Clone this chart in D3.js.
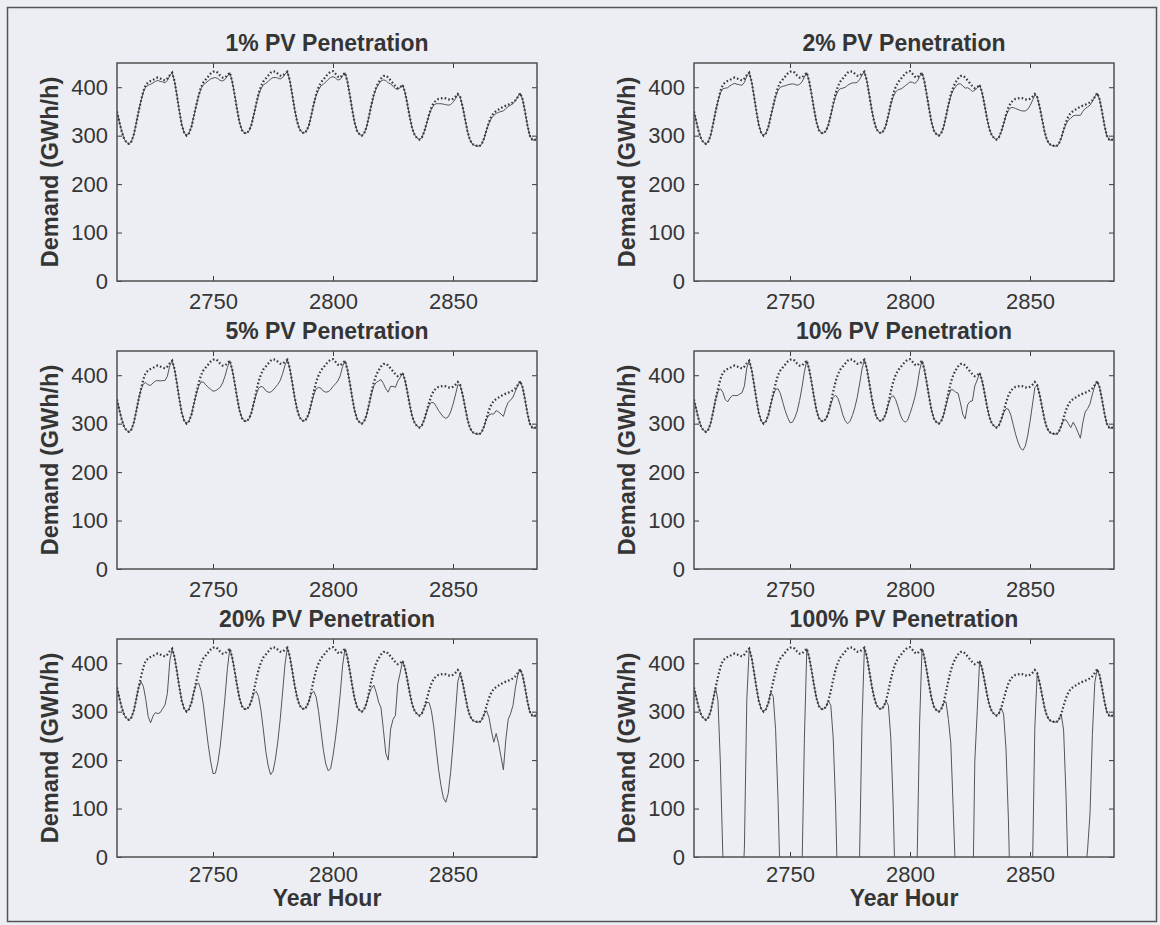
<!doctype html>
<html>
  <head>
    <meta charset="utf-8">
    <title>PV Penetration - Demand</title>
    <script src="https://cdnjs.cloudflare.com/ajax/libs/d3/7.8.5/d3.min.js"></script>
    <style>
      body { margin: 0; background: #eceef3; }
      svg text { font-family: "Liberation Sans", Arial, sans-serif; fill: #353535; }
    </style>
  </head>
  <body>
    <div id="my-svg-chart"></div>

    <script>
    // == data ==
    // hourly values, first value is year hour 2710, last is 2885
    const firstHour = 2710;

    // demand without PV (dotted line), GWh/h
    const baseDemand = [
      350, 328, 308, 293, 286,
      283, 288, 302, 325, 350, 372, 392, 405, 410, 413, 415, 418, 420, 418, 416, 414, 418, 425, 430, 412, 382, 350, 322, 306,
      300, 305, 318, 340, 362, 383, 400, 410, 416, 422, 428, 432, 433, 430, 424, 420, 420, 425, 430, 412, 385, 355, 328, 312, 306,
      305, 310, 322, 343, 366, 387, 402, 412, 418, 424, 430, 433, 432, 428, 424, 424, 428, 432, 414, 385, 355, 330, 314, 307,
      305, 310, 322, 343, 366, 386, 400, 410, 416, 422, 428, 432, 433, 428, 422, 420, 425, 430, 412, 384, 354, 327, 310, 303,
      300, 305, 318, 340, 364, 385, 400, 410, 418, 423, 424, 420, 414, 408, 402, 398, 400, 405, 390, 365, 338, 315, 302, 295,
      292, 296, 308, 325, 343, 358, 368, 373, 376, 377, 378, 377, 375, 374, 376, 380, 386, 380, 360, 335, 310, 292, 283, 280, 279,
      278, 283, 295, 312, 328, 340, 347, 351, 354, 357, 360, 362, 364, 366, 369, 373, 380, 388, 375, 350, 322, 300, 292, 290, 297
    ];

    // demand net of PV (solid line), one array per panel
    const net1 = [
      350, 328, 308, 293, 286,
      283, 288, 302, 325, 350, 372, 390, 401, 404, 406, 409, 412, 414, 412, 411, 409, 414, 424, 430, 412, 382, 350, 322, 306,
      300, 305, 318, 340, 362, 382, 397, 405, 409, 413, 417, 419, 420, 418, 414, 413, 416, 423, 430, 412, 385, 355, 328, 312, 306,
      305, 310, 322, 343, 365, 384, 397, 405, 408, 412, 417, 420, 420, 419, 417, 420, 427, 432, 414, 385, 355, 330, 314, 307,
      305, 310, 322, 343, 365, 383, 395, 403, 406, 411, 416, 420, 422, 419, 415, 416, 424, 430, 412, 384, 354, 327, 310, 303,
      300, 305, 318, 340, 363, 384, 397, 406, 413, 415, 414, 409, 407, 402, 397, 396, 399, 405, 390, 365, 338, 315, 302, 295,
      292, 296, 308, 325, 342, 355, 363, 366, 366, 366, 365, 364, 363, 364, 369, 376, 385, 380, 360, 335, 310, 292, 283, 280, 279,
      278, 283, 295, 312, 326, 336, 342, 346, 348, 350, 351, 356, 360, 363, 366, 372, 380, 388, 375, 350, 322, 300, 292, 290, 297
    ];
    const net2 = [
      350, 328, 308, 293, 286,
      283, 288, 302, 325, 350, 371, 388, 397, 398, 399, 403, 406, 408, 406, 405, 404, 410, 423, 430, 412, 382, 350, 322, 306,
      300, 305, 318, 340, 361, 381, 394, 400, 402, 403, 405, 406, 407, 406, 404, 406, 411, 421, 430, 412, 385, 355, 328, 312, 306,
      305, 310, 322, 342, 364, 381, 392, 397, 398, 400, 404, 407, 409, 409, 410, 416, 425, 432, 414, 385, 355, 330, 314, 307,
      305, 310, 322, 342, 364, 380, 390, 395, 396, 399, 403, 407, 411, 410, 408, 412, 422, 430, 412, 384, 354, 327, 310, 303,
      300, 305, 318, 340, 362, 382, 394, 401, 407, 407, 403, 398, 399, 396, 391, 394, 398, 405, 390, 365, 338, 315, 302, 295,
      292, 296, 308, 324, 341, 352, 358, 358, 356, 354, 352, 351, 351, 354, 362, 372, 384, 380, 360, 335, 310, 292, 283, 280, 279,
      278, 283, 295, 311, 324, 332, 336, 341, 342, 342, 342, 350, 356, 359, 363, 371, 380, 388, 375, 350, 322, 300, 292, 290, 297
    ];
    const net5 = [
      350, 328, 308, 293, 286,
      283, 288, 302, 325, 350, 370, 382, 385, 380, 379, 384, 388, 389, 388, 389, 389, 398, 420, 430, 412, 382, 350, 322, 306,
      300, 305, 318, 340, 361, 377, 386, 386, 380, 375, 371, 367, 368, 371, 375, 384, 398, 416, 430, 412, 385, 355, 328, 312, 306,
      305, 310, 322, 342, 360, 373, 377, 375, 368, 365, 365, 369, 375, 381, 389, 403, 421, 432, 414, 385, 355, 330, 314, 307,
      305, 310, 322, 342, 360, 372, 375, 373, 367, 365, 366, 370, 377, 382, 388, 399, 418, 430, 412, 384, 354, 327, 310, 303,
      300, 305, 318, 339, 360, 378, 385, 388, 391, 383, 372, 365, 377, 377, 375, 388, 395, 405, 390, 365, 338, 315, 302, 295,
      292, 296, 308, 324, 337, 344, 343, 336, 327, 320, 314, 311, 314, 324, 340, 359, 380, 380, 360, 335, 310, 292, 283, 280, 279,
      278, 283, 295, 310, 318, 320, 320, 327, 324, 320, 315, 332, 344, 349, 355, 367, 379, 388, 375, 350, 322, 300, 292, 290, 297
    ];
    const net10 = [
      350, 328, 308, 293, 286,
      283, 288, 302, 325, 350, 367, 372, 365, 350, 345, 353, 358, 358, 358, 361, 364, 378, 415, 430, 412, 382, 350, 322, 306,
      300, 305, 318, 340, 359, 371, 372, 362, 344, 327, 313, 302, 303, 312, 326, 348, 375, 407, 430, 412, 385, 355, 328, 312, 306,
      305, 310, 322, 340, 354, 359, 352, 337, 318, 306, 300, 305, 317, 333, 354, 382, 413, 432, 414, 385, 355, 330, 314, 307,
      305, 310, 322, 340, 354, 358, 350, 335, 318, 307, 303, 307, 321, 336, 354, 378, 410, 430, 412, 384, 354, 327, 310, 303,
      300, 305, 318, 338, 356, 370, 370, 365, 363, 343, 319, 310, 339, 346, 347, 378, 390, 405, 390, 365, 338, 315, 302, 295,
      292, 296, 308, 322, 331, 330, 318, 298, 278, 262, 250, 245, 253, 274, 304, 338, 374, 380, 360, 335, 310, 292, 283, 280, 279,
      278, 283, 295, 307, 308, 300, 292, 303, 294, 282, 270, 302, 324, 331, 341, 361, 378, 388, 375, 350, 322, 300, 292, 290, 297
    ];
    const net20 = [
      350, 328, 308, 293, 286,
      283, 288, 302, 325, 350, 362, 352, 325, 290, 277, 291, 298, 296, 298, 306, 314, 338, 405, 430, 412, 382, 350, 322, 306,
      300, 305, 318, 340, 356, 359, 344, 314, 272, 232, 198, 172, 173, 194, 228, 276, 330, 389, 430, 412, 385, 355, 328, 312, 306,
      305, 310, 322, 337, 342, 331, 302, 262, 218, 188, 170, 177, 202, 238, 284, 340, 398, 432, 414, 385, 355, 330, 314, 307,
      305, 310, 322, 337, 342, 330, 300, 260, 220, 192, 178, 182, 209, 244, 286, 336, 395, 430, 412, 384, 354, 327, 310, 303,
      300, 305, 318, 336, 348, 355, 340, 320, 308, 263, 214, 200, 264, 284, 292, 358, 380, 405, 390, 365, 338, 315, 302, 295,
      292, 296, 308, 319, 319, 302, 268, 223, 180, 147, 122, 113, 131, 174, 232, 296, 362, 380, 360, 335, 310, 292, 283, 280, 279,
      278, 283, 295, 302, 288, 260, 237, 255, 234, 207, 180, 242, 284, 296, 313, 349, 376, 388, 375, 350, 322, 300, 292, 290, 297
    ];
    const net100 = [
      350, 328, 308, 293, 286,
      283, 288, 302, 325, 350, 322, 192, 5, -190, -267, -205, -182, -200, -182, -134, -86, 18, 325, 430, 412, 382, 350, 322, 306,
      300, 305, 318, 340, 332, 263, 120, -70, -304, -528, -722, -868, -867, -750, -556, -300, -30, 245, 430, 412, 385, 355, 328, 312, 306,
      305, 310, 322, 313, 246, 107, -98, -338, -582, -756, -870, -847, -718, -522, -276, 4, 278, 432, 414, 385, 355, 330, 314, 307,
      305, 310, 322, 313, 246, 106, -100, -340, -564, -728, -822, -818, -687, -492, -258, 0, 275, 430, 412, 384, 354, 327, 310, 303,
      300, 305, 318, 320, 284, 235, 100, -40, -132, -377, -626, -680, -336, -212, -148, 198, 300, 405, 390, 365, 338, 315, 302, 295,
      292, 296, 308, 295, 223, 78, -132, -377, -604, -773, -902, -943, -845, -626, -344, -40, 266, 380, 360, 335, 310, 292, 283, 280, 279,
      278, 283, 295, 262, 128, -60, -203, -129, -246, -393, -540, -238, -36, 16, 89, 253, 360, 388, 375, 350, 322, 300, 292, 290, 297
    ];

    const titles = ['1% PV Penetration', '2% PV Penetration', '5% PV Penetration',
                    '10% PV Penetration', '20% PV Penetration', '100% PV Penetration'];
    const netSeries = [net1, net2, net5, net10, net20, net100];

    const xDomain = [2710, 2885];
    const yDomain = [0, 450];
    const xTicks = [2750, 2800, 2850];
    const yTicks = [0, 100, 200, 300, 400];

    // == layout ==
    const W = 1160, H = 925;
    const colLeft = [117, 694];
    const rowTop = [63, 351, 639];
    const pw = 420, ph = 218;
    const ink = '#3a3a3a';
    const fontFam = '"Liberation Sans", Arial, sans-serif';

    const svg = d3.select('#my-svg-chart')
      .append('svg')
      .attr('width', W)
      .attr('height', H);

    svg.append('rect')
      .attr('width', W).attr('height', H)
      .attr('fill', '#eceef3');

    // outer frame of the figure
    svg.append('rect')
      .attr('x', 7.5).attr('y', 7.5)
      .attr('width', 1149).attr('height', 914)
      .attr('fill', 'none')
      .attr('stroke', '#555')
      .attr('stroke-width', 1.5);

    const x = d3.scaleLinear().domain(xDomain).range([0, pw]);
    const y = d3.scaleLinear().domain(yDomain).range([ph, 0]);

    const line = d3.line()
      .x((d, i) => x(firstHour + i))
      .y(d => y(d));

    // axes, ticks point inwards like matlab
    const styleAxis = a => {
      a.attr('font-family', fontFam).attr('font-size', 22);
      a.select('.domain').remove();
      a.selectAll('line').attr('stroke', ink).attr('stroke-width', 1);
      a.selectAll('text').attr('fill', '#353535');
    };

    netSeries.forEach((net, k) => {
      const col = k % 2, row = Math.floor(k / 2);
      const g = svg.append('g')
        .attr('transform', `translate(${colLeft[col]},${rowTop[row]})`);

      g.append('clipPath').attr('id', 'clip' + k)
        .append('rect').attr('width', pw).attr('height', ph);

      g.append('g')
        .attr('transform', `translate(0,${ph})`)
        .call(d3.axisBottom(x).tickValues(xTicks).tickFormat(d3.format('d'))
          .tickSizeInner(-5).tickSizeOuter(0).tickPadding(row === 2 ? 9 : 12))
        .call(styleAxis);

      g.append('g')
        .call(d3.axisTop(x).tickValues(xTicks).tickSizeInner(-5).tickSizeOuter(0).tickFormat(''))
        .call(styleAxis);

      g.append('g')
        .call(d3.axisLeft(y).tickValues(yTicks).tickFormat(d3.format('d'))
          .tickSizeInner(-5).tickSizeOuter(0).tickPadding(9))
        .call(styleAxis);

      g.append('g')
        .attr('transform', `translate(${pw},0)`)
        .call(d3.axisRight(y).tickValues(yTicks).tickSizeInner(-5).tickSizeOuter(0).tickFormat(''))
        .call(styleAxis);

      const plot = g.append('g').attr('clip-path', `url(#clip${k})`);

      // net demand: thin solid line
      plot.append('path')
        .datum(net)
        .attr('fill', 'none')
        .attr('stroke', '#555')
        .attr('stroke-width', 1)
        .attr('d', line);

      // demand without PV: dotted line
      plot.append('path')
        .datum(baseDemand)
        .attr('fill', 'none')
        .attr('stroke', ink)
        .attr('stroke-width', 2.2)
        .attr('stroke-dasharray', '1.6 2.2')
        .attr('d', line);

      // plot box
      g.append('rect')
        .attr('width', pw).attr('height', ph)
        .attr('fill', 'none')
        .attr('stroke', '#505050')
        .attr('stroke-width', 1.5);

      // title
      g.append('text')
        .attr('x', pw / 2).attr('y', -12)
        .attr('text-anchor', 'middle')
        .style('font-size', '23px')
        .style('font-weight', 'bold')
        .text(titles[k]);

      // y label
      g.append('text')
        .attr('transform', `translate(-67,${ph / 2}) rotate(-90)`)
        .attr('text-anchor', 'middle')
        .attr('dominant-baseline', 'central')
        .style('font-size', '23.5px')
        .style('font-weight', 'bold')
        .text('Demand (GWh/h)');

      // x label only on bottom row
      if (row === 2) {
        g.append('text')
          .attr('x', pw / 2).attr('y', ph + 49)
          .attr('text-anchor', 'middle')
          .style('font-size', '23px')
          .style('font-weight', 'bold')
          .text('Year Hour');
      }
    });
    </script>
  </body>
</html>
